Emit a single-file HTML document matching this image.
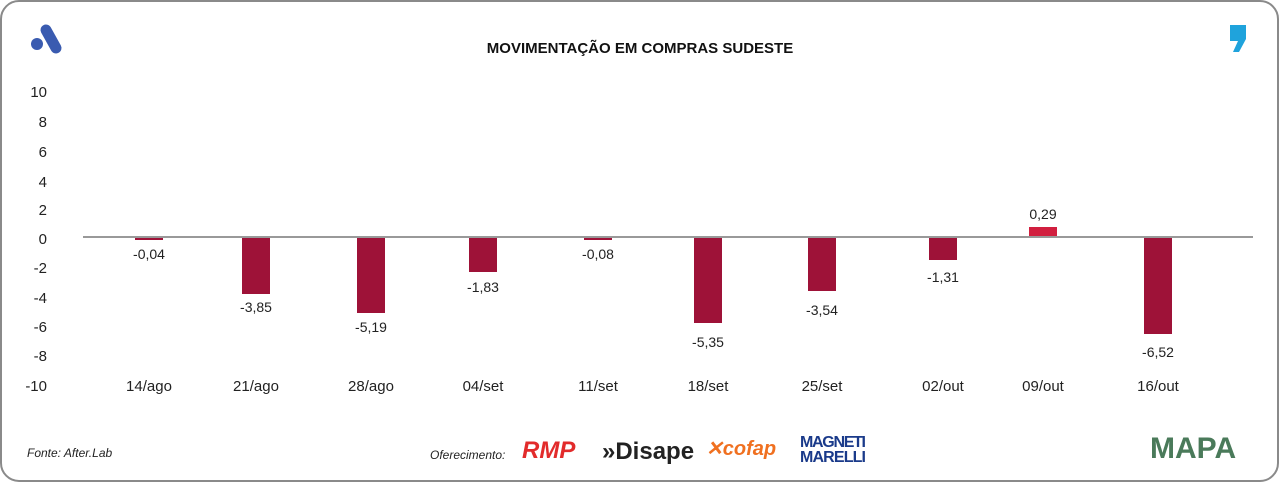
<!DOCTYPE html>
<html><head><meta charset="utf-8"><style>
body{margin:0;width:1280px;height:483px;background:#fff;overflow:hidden;font-family:"Liberation Sans",sans-serif;}
</style></head><body>
<svg width="1280" height="483" viewBox="0 0 1280 483" xmlns="http://www.w3.org/2000/svg" font-family="Liberation Sans, sans-serif">
<rect x="1" y="1" width="1277" height="480" rx="18" fill="#fff" stroke="#8a8a8a" stroke-width="2"/>
<!-- logo A -->
<line x1="46" y1="30" x2="56" y2="48" stroke="#3a5bb0" stroke-width="11" stroke-linecap="round"/>
<circle cx="37" cy="44" r="6" fill="#3a5bb0"/>
<!-- comma logo -->
<path d="M1230 25 h16 v14 l-7 13 h-6 l5 -11 h-8z" fill="#1fa3dc"/>
<text x="640" y="53" text-anchor="middle" font-size="15" font-weight="bold" fill="#111">MOVIMENTAÇÃO EM COMPRAS SUDESTE</text>
<g font-size="15" fill="#222" text-anchor="end">
<text x="47" y="97">10</text><text x="47" y="127">8</text><text x="47" y="157">6</text><text x="47" y="187">4</text><text x="47" y="215">2</text><text x="47" y="244">0</text><text x="47" y="273">-2</text><text x="47" y="303">-4</text><text x="47" y="332">-6</text><text x="47" y="361">-8</text><text x="47" y="391">-10</text>
</g>
<g fill="#9e1238">
<rect x="135" y="237" width="28" height="3"/>
<rect x="242" y="237" width="28" height="57"/>
<rect x="357" y="237" width="28" height="76"/>
<rect x="469" y="237" width="28" height="35"/>
<rect x="584" y="237" width="28" height="3"/>
<rect x="694" y="237" width="28" height="86"/>
<rect x="808" y="237" width="28" height="54"/>
<rect x="929" y="237" width="28" height="23"/>
<rect x="1144" y="237" width="28" height="97"/>
</g>
<rect x="1029" y="227" width="28" height="10" fill="#d11f3f"/>
<line x1="83" y1="237" x2="1253" y2="237" stroke="#999" stroke-width="2"/>
<g font-size="14" fill="#222" text-anchor="middle">
<text x="149" y="259">-0,04</text>
<text x="256" y="312">-3,85</text>
<text x="371" y="332">-5,19</text>
<text x="483" y="292">-1,83</text>
<text x="598" y="259">-0,08</text>
<text x="708" y="347">-5,35</text>
<text x="822" y="315">-3,54</text>
<text x="943" y="282">-1,31</text>
<text x="1043" y="219">0,29</text>
<text x="1158" y="357">-6,52</text>
</g>
<g font-size="15" fill="#222" text-anchor="middle">
<text x="149" y="391">14/ago</text><text x="256" y="391">21/ago</text><text x="371" y="391">28/ago</text><text x="483" y="391">04/set</text><text x="598" y="391">11/set</text><text x="708" y="391">18/set</text><text x="822" y="391">25/set</text><text x="943" y="391">02/out</text><text x="1043" y="391">09/out</text><text x="1158" y="391">16/out</text>
</g>
<text x="27" y="457" font-size="12" font-style="italic" fill="#222">Fonte: After.Lab</text>
<text x="430" y="459" font-size="12" font-style="italic" fill="#222">Oferecimento:</text>
<text x="522" y="458" font-size="24" font-weight="bold" font-style="italic" fill="#e22b2b">RMP</text>
<text x="602" y="459" font-size="24" font-weight="bold" fill="#222">»Disape</text>
<text x="706" y="455" font-size="20" font-weight="bold" font-style="italic" fill="#f07020">✕cofap</text>
<text x="800" y="447" font-size="16" font-weight="bold" fill="#1a3a8a" textLength="66">MAGNETI</text>
<text x="800" y="462" font-size="16" font-weight="bold" fill="#1a3a8a" textLength="66">MARELLI</text>
<text x="1150" y="458" font-size="30" font-weight="bold" fill="#4a7a5a">MAPA</text>
</svg>
</body></html>
